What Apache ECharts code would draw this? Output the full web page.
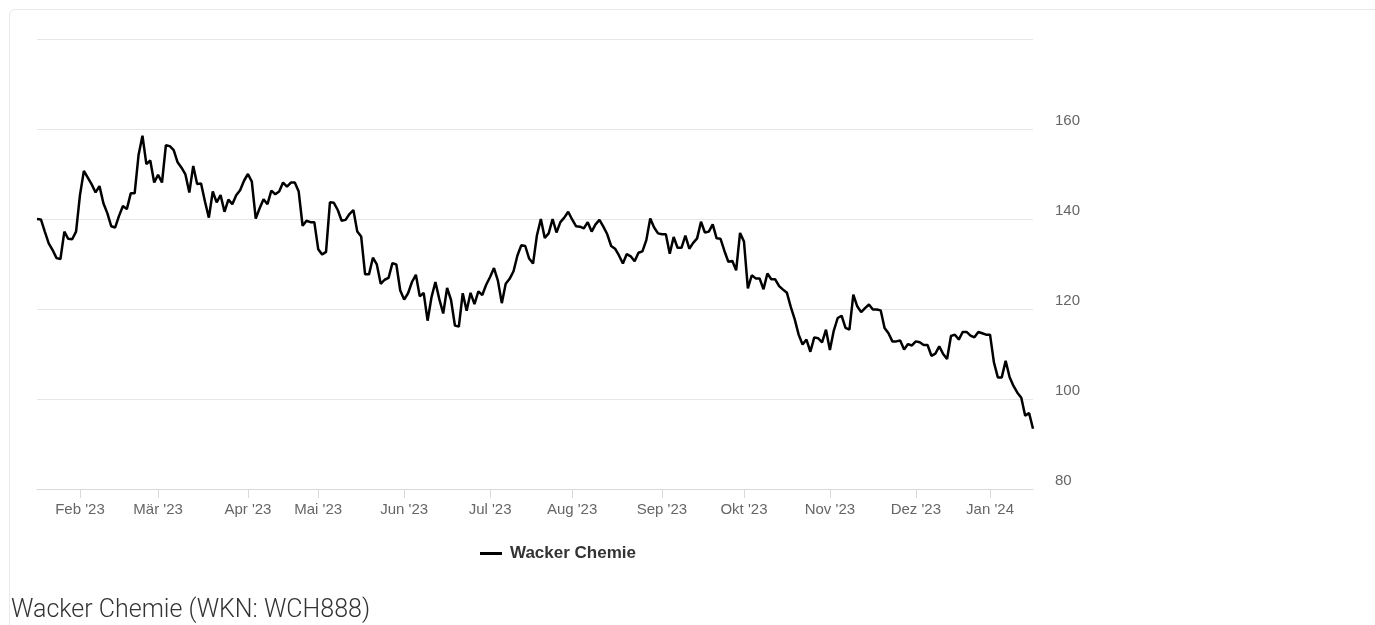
<!DOCTYPE html>
<html>
<head>
<meta charset="utf-8">
<script src="https://cdn.jsdelivr.net/npm/echarts@6/dist/echarts.min.js"></script>
<style>
  html, body { margin: 0; padding: 0; background: #ffffff; }
  #wrap { position: relative; width: 1375px; height: 625px; overflow: hidden; }
  #card { position: absolute; left: 9px; top: 9px; width: 1400px; height: 700px;
          border: 1px solid #e9e9e9; border-radius: 6px; box-sizing: border-box; }
  #chart { position: absolute; left: 0; top: 0; width: 1375px; height: 625px; }
</style>
</head>
<body>
<div id="wrap">
  <div id="card"></div>
  <div id="chart"></div>
</div>
<script>
// ---- data ----
const seriesName = 'Wacker Chemie';
const chartTitle = 'Wacker Chemie (WKN: WCH888)';
const startDate = '2023-01-17';
const exchangeHolidays = ['2023-04-07', '2023-04-10', '2023-05-01', '2023-12-25', '2023-12-26', '2024-01-01'];
const monthNames = ['Jan', 'Feb', 'Mär', 'Apr', 'Mai', 'Jun', 'Jul', 'Aug', 'Sep', 'Okt', 'Nov', 'Dez'];
const yTicks = [80, 100, 120, 140, 160, 180];

const closeJanToMay = [
  140.0, 139.9, 137.2, 134.6, 133.1, 131.3, 131.1, 137.2, 135.6, 135.5,
  137.2, 145.3, 150.7, 149.2, 147.7, 145.9, 147.3, 143.5, 141.3, 138.4,
  138.1, 140.7, 142.9, 142.2, 145.7, 145.7, 154.2, 158.5, 152.2, 153.0,
  148.1, 149.8, 148.1, 156.4, 156.2, 155.3, 152.6, 151.4, 149.9, 145.9,
  151.8, 147.8, 147.9, 143.9, 140.3, 146.1, 143.7, 145.3, 141.6, 144.3,
  143.3, 145.3, 146.4, 148.5, 150.0, 148.3, 140.1, 142.4, 144.4, 143.3,
  146.3, 145.5, 146.1, 148.1, 147.2, 148.1, 148.1, 146.1, 138.5, 139.6,
  139.3, 139.3, 133.3, 132.1, 132.7, 143.7, 143.6, 142.0, 139.6, 139.8,
  141.1, 142.0, 137.2, 136.1, 127.7, 127.7, 131.4
];
const closeMayToSep = [
  129.9, 125.6, 126.5, 126.9, 130.2, 129.9, 124.1, 122.1, 123.5, 126.0,
  127.6, 122.8, 123.6, 117.4, 122.6, 126.0, 122.2, 119.0, 124.7, 122.0,
  116.3, 116.1, 123.5, 119.6, 123.6, 121.1, 123.9, 123.1, 125.4, 127.1,
  129.1, 126.3, 121.3, 125.6, 126.7, 128.4, 131.9, 134.2, 134.0, 131.2,
  130.1, 136.4, 140.0, 135.8, 136.8, 140.0, 137.0, 139.3, 140.3, 141.6,
  139.9, 138.4, 138.3, 137.9, 139.3, 137.2, 138.8, 139.8, 138.3, 136.6,
  134.0, 133.4, 131.9, 130.1, 132.2, 131.7, 130.6, 132.5, 132.8, 135.3,
  140.1, 138.1, 136.8, 136.6, 136.6, 132.3, 136.0, 133.6, 133.6, 136.3,
  133.4, 134.7, 135.7, 139.4, 137.0, 137.2
];
const closeSepToJan = [
  138.8, 135.7, 135.6, 132.9, 130.5, 130.7, 128.6, 136.9, 135.0, 124.6,
  127.5, 126.8, 126.8, 124.4, 127.9, 126.6, 126.6, 125.1, 124.3, 123.6,
  120.4, 117.7, 114.3, 112.1, 113.2, 110.5, 113.7, 113.5, 112.6, 115.4,
  110.9, 115.2, 118.0, 118.5, 115.8, 115.4, 123.2, 120.6, 119.3, 120.2,
  121.0, 119.9, 119.9, 119.7, 115.8, 114.6, 112.8, 112.8, 113.0, 111.0,
  112.2, 111.9, 112.8, 112.6, 112.0, 112.0, 109.6, 110.1, 111.7, 110.0,
  108.9, 114.0, 114.3, 113.2, 114.9, 114.9, 114.1, 113.7, 114.9, 114.6,
  114.3, 114.3, 108.1, 104.8, 104.8, 108.5, 104.9, 102.9, 101.4, 100.3,
  96.3, 96.9, 93.4
];

// ---- build the table the library needs ----
const values = closeJanToMay.concat(closeMayToSep, closeSepToJan);

function pad(n) { return (n < 10 ? '0' : '') + n; }
function isoDate(d) { return d.getUTCFullYear() + '-' + pad(d.getUTCMonth() + 1) + '-' + pad(d.getUTCDate()); }
const categories = [];
{
  const d = new Date(startDate + 'T00:00:00Z');
  while (categories.length < values.length) {
    const wd = d.getUTCDay();
    const s = isoDate(d);
    if (wd !== 0 && wd !== 6 && exchangeHolidays.indexOf(s) < 0) categories.push(s);
    d.setUTCDate(d.getUTCDate() + 1);
  }
}
function isMonthStart(idx) {
  if (idx === 0) return false;
  return categories[idx].slice(0, 7) !== categories[idx - 1].slice(0, 7);
}
function monthLabel(s) {
  const m = parseInt(s.slice(5, 7), 10) - 1;
  return monthNames[m] + " '" + s.slice(2, 4);
}

const chart = echarts.init(document.getElementById('chart'), null, { renderer: 'canvas' });
const baseFont = '"Liberation Sans", Arial, Helvetica, sans-serif';
chart.setOption({
  animation: false,
  backgroundColor: 'transparent',
  title: {
    text: chartTitle,
    left: 6,
    top: 593,
    padding: [5, 5, 5, 5],
    textStyle: { fontFamily: 'Roboto, "Liberation Sans", sans-serif', fontWeight: 300, fontSize: 25, color: '#333333' }
  },
  legend: {
    data: [seriesName],
    left: 475,
    top: 540,
    icon: 'rect',
    itemWidth: 22,
    itemHeight: 3,
    itemGap: 8,
    textStyle: { fontFamily: baseFont, fontWeight: 'bold', fontSize: 17, color: '#333333', padding: [0, 0, 0, 3] }
  },
  grid: { left: 37, right: 342, top: 39, bottom: 136, containLabel: false },
  xAxis: {
    type: 'category',
    data: categories,
    boundaryGap: false,
    axisLine: { show: true, lineStyle: { color: '#d9d9d9', width: 1 } },
    axisTick: { show: true, length: 9, interval: function (i) { return isMonthStart(i); }, lineStyle: { color: '#d9d9d9' } },
    axisLabel: {
      interval: function (i) { return isMonthStart(i); },
      formatter: function (v) { return monthLabel(v); },
      color: '#666666', fontSize: 15, fontFamily: baseFont, margin: 13
    },
    splitLine: { show: false }
  },
  yAxis: {
    type: 'value',
    position: 'right',
    min: yTicks[0],
    max: yTicks[yTicks.length - 1],
    interval: yTicks[1] - yTicks[0],
    axisLine: { show: false },
    axisTick: { show: false },
    splitLine: { show: true, lineStyle: { color: '#e6e6e6', width: 1 } },
    axisLabel: {
      showMaxLabel: false,
      color: '#666666', fontSize: 15, fontFamily: baseFont, margin: 22,
      verticalAlign: 'bottom', lineHeight: 17
    }
  },
  series: [{
    name: seriesName,
    type: 'line',
    data: values,
    showSymbol: false,
    symbol: 'none',
    smooth: false,
    lineStyle: { color: '#000000', width: 2.5 },
    itemStyle: { color: '#000000' }
  }]
});
</script>
</body>
</html>
